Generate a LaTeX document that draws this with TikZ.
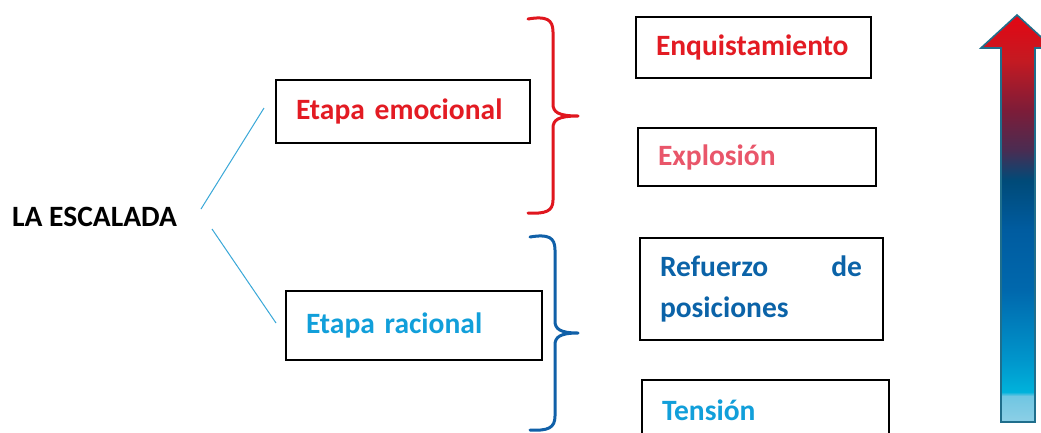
\documentclass[tikz,border=0pt]{standalone}
\usepackage{fontspec}
\setmainfont{Carlito}
\definecolor{emred}{HTML}{E31B23}
\definecolor{exred}{HTML}{E9566A}
\definecolor{refblue}{HTML}{0B63A8}
\definecolor{cyanb}{HTML}{119FDA}
\definecolor{linecol}{HTML}{3AA8D8}
\definecolor{bracered}{HTML}{E0161E}
\definecolor{braceblue}{HTML}{1060A8}
\definecolor{arrowedge}{HTML}{1F6E8C}
\definecolor{s1}{HTML}{8CCFE6}
\definecolor{s2}{HTML}{70C6E2}
\definecolor{s3}{HTML}{00B2DB}
\definecolor{s4}{HTML}{0096CC}
\definecolor{s5}{HTML}{0068AD}
\definecolor{s6}{HTML}{005CA0}
\definecolor{s7}{HTML}{004A78}
\definecolor{s8}{HTML}{4A2C52}
\definecolor{s9}{HTML}{7D1C38}
\definecolor{s10}{HTML}{C41A22}
\definecolor{s11}{HTML}{E30613}
\pgfdeclareverticalshading{escshade}{100bp}{color(0bp)=(s1); color(25bp)=(s1); color(28.2bp)=(s2); color(28.7bp)=(s3); color(32.6bp)=(s4); color(41.2bp)=(s5); color(48.6bp)=(s6); color(54.7bp)=(s7); color(58.4bp)=(s8); color(63.3bp)=(s9); color(69.4bp)=(s10); color(75bp)=(s11); color(100bp)=(s11)}
\tikzset{
  lbl/.style={font=\fontsize{29.5}{41}\selectfont\bfseries},
  box/.style={draw=black, line width=2.2pt, lbl, align=left, inner xsep=20pt, inner ysep=0pt, anchor=center},
  conn/.style={draw=linecol, line width=1pt},
  brace/.style={line width=3pt, line cap=round, line join=round},
}
\begin{document}
\begin{tikzpicture}[x=1pt, y=-1pt]
\clip (0,0) rectangle (1041,432);
\fill[white] (0,0) rectangle (1041,432);
% left title
\node[lbl, anchor=west, inner sep=0pt, text=black] (esc) at (12,217) {LA ESCALADA};
% stage boxes
\node[box, text=emred, minimum width=254pt, minimum height=63pt, text width=214pt] (emo) at (403,111.5) {Etapa emocional};
\node[box, text=cyanb, minimum width=256pt, minimum height=69pt, text width=216pt] (rac) at (414,325.5) {Etapa racional};
% connectors
\coordinate (c1a) at (201,209);
\coordinate (c1b) at (264,108);
\coordinate (c2a) at (212,229);
\coordinate (c2b) at (276,323);
\draw[conn] (c1a) -- (c1b);
\draw[conn] (c2a) -- (c2b);
% braces
\draw[brace, bracered] (528,19) .. controls (546,16) and (553,19) .. (553,32) -- (553,104)
  .. controls (553,112) and (558,116) .. (578,116)
  .. controls (558,116) and (553,120) .. (553,128) -- (553,200)
  .. controls (553,211) and (546,214) .. (528,213);
\draw[brace, braceblue] (530,237) .. controls (548,234) and (555,237) .. (555,250) -- (555,321)
  .. controls (555,329) and (560,333) .. (578,333)
  .. controls (560,333) and (555,337) .. (555,345) -- (555,416)
  .. controls (555,428) and (548,431) .. (530,430);
% level boxes
\node[box, text=emred, minimum width=235pt, minimum height=61pt, text width=195pt] (enq) at (753.5,47.5) {Enquistamiento};
\node[box, text=exred, minimum width=238pt, minimum height=58pt, text width=198pt] (exp) at (757,157) {Explosión};
\node[box, text=refblue, minimum width=243pt, minimum height=102pt, text width=203pt] (ref) at (761.5,289) {\makebox[202pt][s]{Refuerzo\hfill de}\\posiciones};
\node[box, text=cyanb, minimum width=247pt, minimum height=60pt, text width=207pt] (ten) at (765.5,410) {Tensión};
% gradient arrow
\path[shading=escshade, draw=arrowedge, line width=1.6pt, line join=miter]
  (1001,422) -- (1001,48) -- (981,48) -- (1017,15) -- (1053,48) -- (1035,48) -- (1035,422) -- cycle;
\end{tikzpicture}
\end{document}
